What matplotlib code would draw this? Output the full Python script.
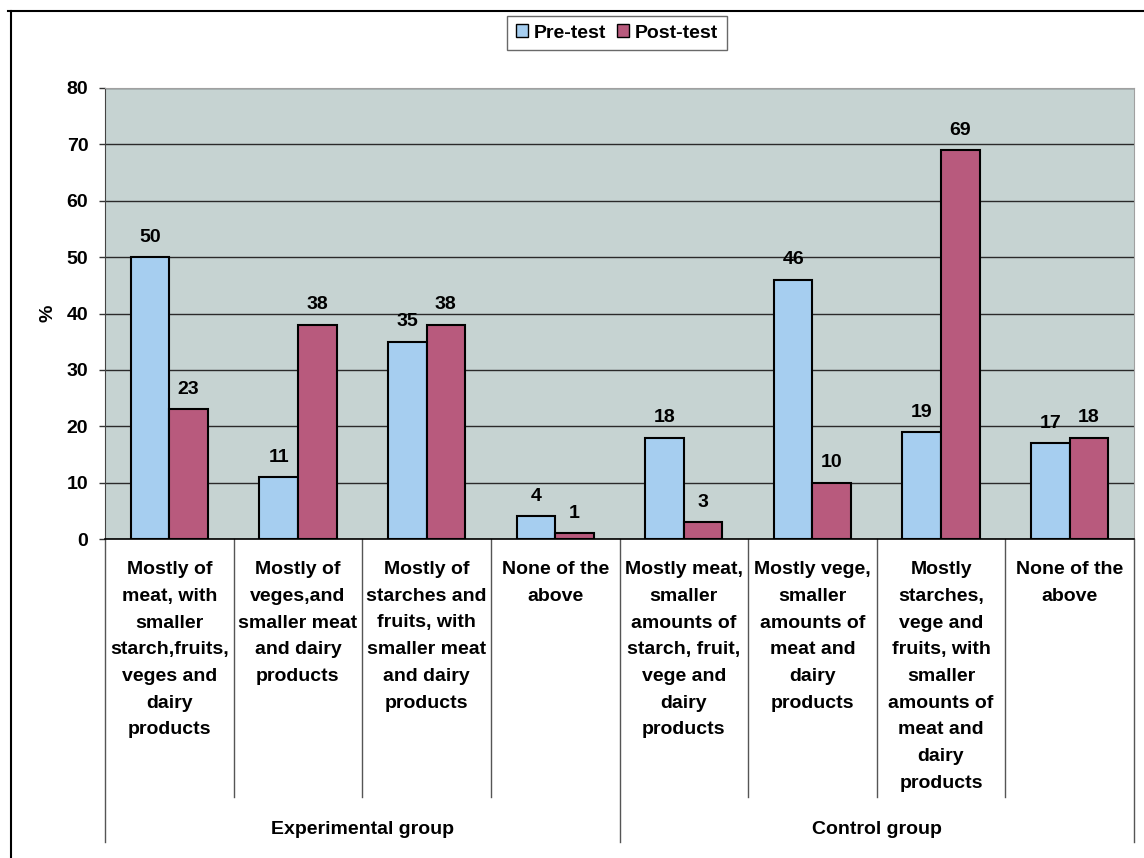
import matplotlib.pyplot as plt
from matplotlib.lines import Line2D
from matplotlib.patches import Patch
import matplotlib.transforms as mtransforms
import numpy as np

# data
categories = [
    "Mostly of\nmeat, with\nsmaller\nstarch,fruits,\nveges and\ndairy\nproducts",
    "Mostly of\nveges,and\nsmaller meat\nand dairy\nproducts",
    "Mostly of\nstarches and\nfruits, with\nsmaller meat\nand dairy\nproducts",
    "None of the\nabove",
    "Mostly meat,\nsmaller\namounts of\nstarch, fruit,\nvege and\ndairy\nproducts",
    "Mostly vege,\nsmaller\namounts of\nmeat and\ndairy\nproducts",
    "Mostly\nstarches,\nvege and\nfruits, with\nsmaller\namounts of\nmeat and\ndairy\nproducts",
    "None of the\nabove",
]
groups = ["Experimental group", "Control group"]
pre_test = [50, 11, 35, 4, 18, 46, 19, 17]
post_test = [23, 38, 38, 1, 3, 10, 69, 18]
y_ticks = [0, 10, 20, 30, 40, 50, 60, 70, 80]

PRE_COLOR = '#a6cef0'
POST_COLOR = '#b85a7d'
BG_COLOR = '#c6d3d2'

plt.rcParams['font.family'] = ['Liberation Sans', 'DejaVu Sans']
plt.rcParams['font.weight'] = 'bold'

W, H = 1144, 858
fig = plt.figure(figsize=(W / 100, H / 100), dpi=100)

# plot area in pixels: left 105, right 1134, top 88, bottom 539
px_l, px_r, px_t, px_b = 105, 1134, 88, 539
ax = fig.add_axes([px_l / W, 1 - px_b / H, (px_r - px_l) / W, (px_b - px_t) / H])
ax.set_facecolor(BG_COLOR)

x = np.arange(len(categories))
bw = 0.3
ax.bar(x - bw / 2, pre_test, bw, color=PRE_COLOR, edgecolor='black', linewidth=1.5, zorder=3)
ax.bar(x + bw / 2, post_test, bw, color=POST_COLOR, edgecolor='black', linewidth=1.5, zorder=3)

for xi, v in zip(x - bw / 2, pre_test):
    ax.annotate(str(v), (xi, v), xytext=(0, 11), textcoords='offset points',
                ha='center', va='baseline', fontsize=14, fontweight='bold')
for xi, v in zip(x + bw / 2, post_test):
    ax.annotate(str(v), (xi, v), xytext=(0, 11), textcoords='offset points',
                ha='center', va='baseline', fontsize=14, fontweight='bold')

ax.set_xlim(-0.5, len(categories) - 0.5)
ax.set_ylim(0, 80)
ax.set_yticks(y_ticks)
ax.set_yticklabels([str(t) for t in y_ticks], fontsize=14, fontweight='bold')
ax.tick_params(axis='y', length=4, width=1, pad=8, color='#333333')
ax.set_xticks([])
ax.yaxis.grid(True, color='#2a2a2a', linewidth=1)
ax.set_axisbelow(True)
for side in ['top', 'right']:
    ax.spines[side].set_color('#a0a0a0')
ax.spines['left'].set_color('#444444')
ax.spines['bottom'].set_color('black')
ax.spines['bottom'].set_linewidth(1.2)

ax.set_ylabel('%', fontsize=14, fontweight='bold', labelpad=7)

# category labels and separators below the axis
ppx = px_b - px_t
def ax_y(py):
    return (px_b - py) / ppx

trans = mtransforms.blended_transform_factory(ax.transData, ax.transAxes)
for xi, label in zip(x, categories):
    ax.text(xi, ax_y(561), label, transform=trans, ha='center', va='top',
            fontsize=14, fontweight='bold', linespacing=1.75)

for b in np.arange(len(categories) + 1) - 0.5:
    bottom = 842 if b in (-0.5, 3.5, 7.5) else 797
    ax.plot([b, b], [0, ax_y(bottom)], transform=trans, color='#555555',
            linewidth=1, clip_on=False)

ax.text(1.5, ax_y(829), groups[0], transform=trans, ha='center', va='center',
        fontsize=14, fontweight='bold')
ax.text(5.5, ax_y(829), groups[1], transform=trans, ha='center', va='center',
        fontsize=14, fontweight='bold')

# legend
handles = [Patch(facecolor=PRE_COLOR, edgecolor='black', label='Pre-test'),
           Patch(facecolor=POST_COLOR, edgecolor='black', label='Post-test')]
leg = fig.legend(handles=handles, loc='center', bbox_to_anchor=(617 / W, 1 - 33 / H),
                 ncol=2, frameon=True, fancybox=False, edgecolor='#444444',
                 fontsize=14, handlelength=0.6, handleheight=0.6,
                 handletextpad=0.3, columnspacing=0.6, borderpad=0.45)
leg.get_frame().set_linewidth(1)
for t in leg.get_texts():
    t.set_fontweight('bold')

# outer chart frame (top and left edges)
fig.add_artist(Line2D([8 / W, 1], [1 - 11 / H, 1 - 11 / H], color='black', linewidth=1.5))
fig.add_artist(Line2D([11 / W, 11 / W], [0, 1 - 11 / H], color='black', linewidth=1.5))

fig.savefig('out.png', dpi=100)
plt.close(fig)
